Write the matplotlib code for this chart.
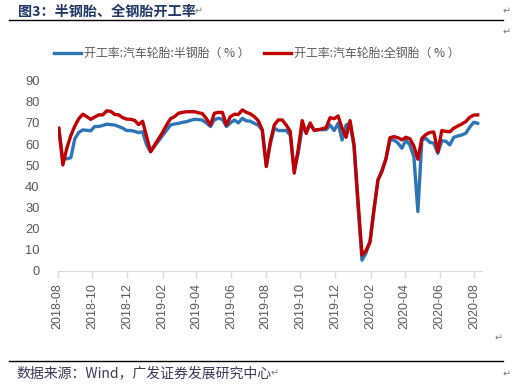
import matplotlib
matplotlib.use("Agg")
import matplotlib.pyplot as plt
from matplotlib.lines import Line2D
import pandas as pd

plt.rcParams['font.family'] = ['Liberation Sans', 'Noto Sans CJK SC', 'DejaVu Sans']

start_date = '2018-08-03'
semi_steel = [67.0, 53.0, 53.0, 53.5, 62.5, 65.5, 66.7, 66.5, 66.3, 68.3,
              68.3, 68.8, 69.4, 69.2, 69.0, 68.3, 67.5, 66.4, 66.4, 66.0,
              65.4, 65.8, 59.6, 56.4, 59.0, 61.5, 64.0, 66.5, 69.0, 69.5,
              69.8, 70.3, 70.6, 71.2, 71.7, 71.6, 71.3, 70.0, 68.3, 71.5,
              72.2, 71.7, 68.3, 70.0, 71.4, 70.0, 72.2, 71.0, 70.8, 69.8,
              69.0, 66.5, 50.1, 60.0, 67.5, 66.4, 66.4, 66.4, 64.3, 47.7,
              55.6, 67.5, 66.4, 69.0, 66.8, 66.8, 66.8, 66.8, 69.0, 66.4,
              69.8, 61.9, 69.0, 69.8, 58.8, 30.0, 5.0, 8.4, 14.0, 29.0,
              43.0, 47.7, 53.0, 61.9, 61.9, 60.5, 58.0, 61.9, 59.5, 54.0,
              28.0, 61.9, 62.7, 60.8, 60.4, 55.6, 61.6, 61.3, 59.6, 63.2,
              63.8, 64.3, 65.1, 68.0, 70.3, 69.8]
all_steel = [67.5, 50.1, 58.0, 64.0, 68.5, 72.0, 74.1, 73.0, 71.7, 72.8,
             73.8, 73.8, 75.7, 75.5, 74.0, 73.8, 72.5, 71.8, 71.7, 71.2,
             69.2, 70.8, 63.5, 56.4, 59.5, 62.5, 65.5, 69.0, 72.0, 73.0,
             74.6, 75.0, 75.3, 75.3, 75.3, 74.8, 74.4, 72.0, 69.0, 74.6,
             75.0, 75.0, 69.0, 73.0, 74.1, 74.0, 76.2, 75.0, 74.3, 73.0,
             71.0, 66.7, 49.3, 61.0, 69.0, 71.4, 71.4, 69.0, 66.0, 46.2,
             57.5, 71.1, 65.0, 70.0, 66.4, 66.8, 67.2, 67.8, 72.5, 72.0,
             73.3, 67.5, 63.2, 71.1, 59.6, 33.0, 7.4, 9.5, 13.5, 29.0,
             43.0, 47.0, 53.0, 63.0, 63.5, 63.0, 62.0, 63.2, 62.5, 59.0,
             52.8, 62.7, 64.5, 65.5, 65.7, 56.4, 66.4, 66.0, 65.8, 67.5,
             68.5, 69.5, 70.6, 72.7, 73.7, 73.8]
dates = pd.date_range(start_date, periods=len(semi_steel), freq='7D')

tick_labels = ['2018-08', '2018-10', '2018-12', '2019-02', '2019-04', '2019-06',
               '2019-08', '2019-10', '2019-12', '2020-02', '2020-04', '2020-06',
               '2020-08']
y_ticks = [0, 10, 20, 30, 40, 50, 60, 70, 80, 90]

label_semi = '开工率:汽车轮胎:半钢胎（ % ）'
label_all = '开工率:汽车轮胎:全钢胎（ % ）'
title = '图3：半钢胎、全钢胎开工率'
source = '数据来源：Wind，广发证券发展研究中心'

W, H = 519, 387
fig = plt.figure(figsize=(W / 100, H / 100), dpi=100)
ax = fig.add_axes([57.7 / W, 1 - 270.7 / H, (481.7 - 57.7) / W, (270.7 - 80.7) / H])

blue = '#2E75B6'
red = '#C00000'
l1, = ax.plot(dates, semi_steel, color=blue, lw=2.4, solid_joinstyle='round')
l2, = ax.plot(dates, all_steel, color=red, lw=2.4, solid_joinstyle='round')

ax.set_ylim(0, 90)
ax.set_yticks(y_ticks)
ax.set_xlim(pd.Timestamp('2018-08-01'), pd.Timestamp('2020-08-14'))
tick_pos = [pd.Timestamp(t + '-01') for t in tick_labels]
ax.set_xticks(tick_pos)
ax.set_xticklabels(tick_labels, rotation=90, fontsize=9, color='#595959')
ax.tick_params(axis='y', length=0, labelsize=9.3, labelcolor='#595959', pad=13)
ax.tick_params(axis='x', direction='out', length=5, color='#d9d9d9', width=1, pad=4)
for s in ['left', 'right', 'top']:
    ax.spines[s].set_visible(False)
ax.spines['bottom'].set_color('#d9d9d9')

leg = fig.legend([l1, l2], [label_semi, label_all], loc='center',
                 bbox_to_anchor=(256.5 / W, 1 - 53.3 / H), ncol=2, frameon=False,
                 prop={'family': ['Noto Sans CJK SC', 'DejaVu Sans'], 'size': 8.6},
                 handlelength=2.3, columnspacing=1.2, handletextpad=0.2)
for t in leg.get_texts():
    t.set_color('#595959')
for h in leg.legend_handles:
    h.set_linewidth(2.4)

fig.text(18 / W, 1 - 11.5 / H, title, fontsize=10.2, fontweight='bold', color='#1F3864',
         family=['Noto Sans CJK SC', 'DejaVu Sans'], va='center', ha='left')
fig.text(16.7 / W, 1 - 373.5 / H, source, fontsize=10, color='#3A3A5A',
         family=['Noto Sans CJK SC', 'DejaVu Sans'], va='center', ha='left')

fig.add_artist(Line2D([9 / W, 502.7 / W], [1 - 20.3 / H, 1 - 20.3 / H], color='black', lw=1))
fig.add_artist(Line2D([9 / W, 502.7 / W], [1 - 360.7 / H, 1 - 360.7 / H], color='black', lw=1))

for (x, y) in [(199, 11.5), (506.7, 11.7), (506.7, 32.3), (499, 338.3), (506.7, 374), (275, 373.5)]:
    fig.text(x / W, 1 - y / H, '\u21b5', fontsize=7, color='#7f7f7f',
             family='DejaVu Sans', va='center', ha='center')

fig.savefig('out.png', dpi=100)
